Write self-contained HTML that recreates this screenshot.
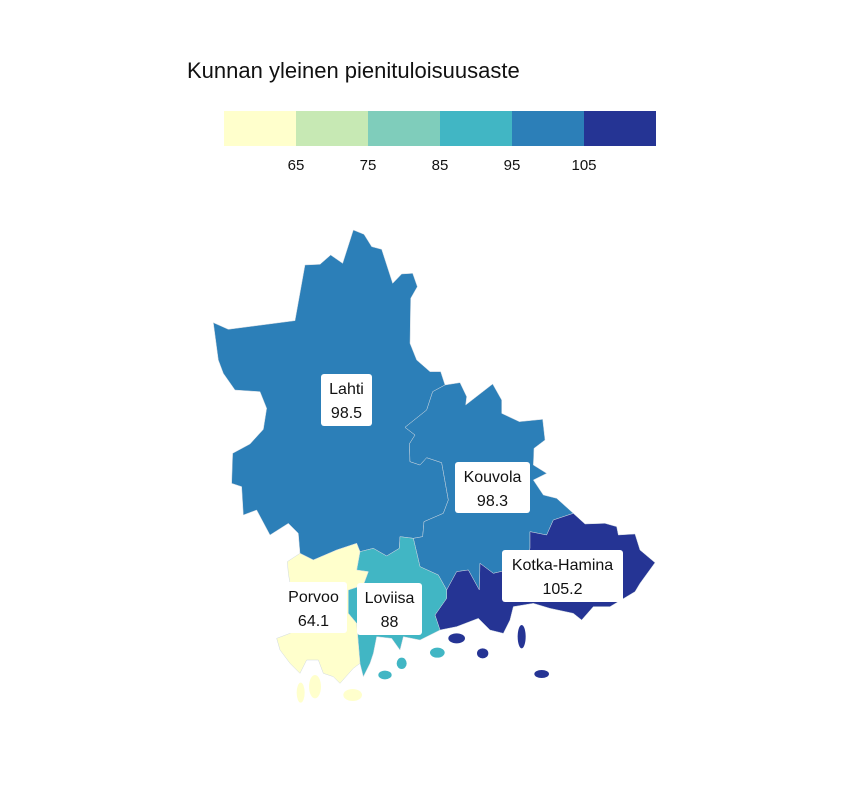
<!DOCTYPE html>
<html><head><meta charset="utf-8">
<style>
body{margin:0;background:#fff;font-family:"Liberation Sans",sans-serif;}
svg{display:block}
.lbl{font-size:16px;fill:#111;text-anchor:middle}
</style></head>
<body>
<svg id="chart" width="864" height="792">
<text x="187" y="78" font-size="22" fill="#111">Kunnan yleinen pienituloisuusaste</text>
<g id="legend"></g>
<g id="map" transform="translate(200,220) scale(0.33333)"></g>
<g id="labels"></g>
</svg>
<script>
const regions=["Lahti","Kouvola","Kotka-Hamina","Loviisa","Porvoo"];
const values=[98.5,98.3,105.2,88,64.1];
const thresholds=[65,75,85,95,105];
const binColors=["#ffffcc","#c7e9b4","#7fcdbb","#41b6c4","#2c7fb8","#253494"];
function colorOf(v){let i=0;while(i<thresholds.length&&v>=thresholds[i])i++;return binColors[i];}
const NS="http://www.w3.org/2000/svg";
const lg=document.getElementById('legend');
binColors.forEach((c,i)=>{const r=document.createElementNS(NS,'rect');
r.setAttribute('x',224+i*72);r.setAttribute('y',111);r.setAttribute('width',72);r.setAttribute('height',35);r.setAttribute('fill',c);


lg.appendChild(r);});
thresholds.forEach((t,i)=>{const tx=document.createElementNS(NS,'text');
tx.setAttribute('x',296+i*72);tx.setAttribute('y',170);tx.setAttribute('text-anchor','middle');tx.setAttribute('font-size','15');tx.setAttribute('fill','#111');tx.textContent=t;


lg.appendChild(tx);});
const shapes={
"Lahti":{poly:"40,308 85,328 285,302 315,135 360,133 392,105 428,130 460,30 492,43 515,80 545,88 578,190 605,162 638,160 652,200 632,235 630,370 650,420 690,455 722,455 735,495 698,515 680,570 615,622 645,645 628,672 630,725 660,735 680,713 725,728 745,840 730,880 672,905 668,950 640,955 600,950 598,985 560,1008 520,985 480,995 470,970 410,990 340,1020 300,1000 295,940 265,910 210,945 170,870 130,885 125,800 95,790 98,700 150,672 190,628 200,565 180,515 105,510 70,460 55,420",isl:[],box:[321,374,51,52]},
"Kouvola":{poly:"735,495 780,488 800,530 797,555 878,492 905,540 905,580 958,605 1028,598 1035,660 1002,685 1000,735 1040,760 1000,780 1030,825 1070,835 1120,880 1060,900 1040,945 990,935 990,985 965,1040 880,1060 840,1030 838,1110 805,1050 770,1055 740,1110 715,1065 660,1040 640,955 668,950 672,905 730,880 745,840 725,728 680,713 660,735 630,725 628,672 645,645 615,622 680,570 698,515",isl:[],box:[455,462,75,51]},
"Kotka-Hamina":{poly:"1120,880 1155,912 1215,910 1250,920 1255,945 1305,942 1320,990 1365,1028 1320,1090 1305,1115 1230,1160 1180,1160 1145,1200 1120,1180 1050,1165 1000,1150 940,1160 930,1200 910,1240 870,1230 835,1195 770,1220 720,1230 705,1185 740,1135 740,1110 770,1055 805,1050 838,1110 840,1030 880,1060 965,1040 990,985 990,935 1040,945 1060,900",isl:[[770,1255,25,15],[848,1300,17,15],[965,1250,12,35],[1025,1362,22,12]],box:[502,550,121,52]},
"Loviisa":{poly:"480,995 520,985 560,1008 598,985 600,950 640,955 660,1040 715,1065 740,1110 740,1135 705,1185 720,1230 700,1240 660,1260 610,1250 600,1290 575,1255 530,1250 520,1300 510,1330 490,1370 480,1330 470,1210 445,1180 445,1110 490,1095 505,1055 470,1050",isl:[[555,1365,20,13],[605,1330,15,17],[712,1298,22,15]],box:[357,583,65,52]},
"Porvoo":{poly:"300,1000 340,1020 410,990 470,970 480,995 470,1050 505,1055 490,1095 445,1110 445,1180 470,1210 480,1330 460,1345 420,1390 400,1370 370,1360 355,1320 320,1320 300,1360 270,1330 240,1290 230,1255 270,1240 310,1210 290,1170 270,1090 265,1060 262,1025",isl:[[302,1418,12,30],[345,1400,18,35],[458,1425,28,18]],box:[280,582,67,51]}
};
const map=document.getElementById('map'),labs=document.getElementById('labels');
regions.forEach((name,i)=>{
 const s=shapes[name],c=colorOf(values[i]);
 const g=document.createElementNS(NS,'g');
 
 
 const p=document.createElementNS(NS,'polygon');
 p.setAttribute('points',s.poly);p.setAttribute('fill',c);p.setAttribute('stroke','#cfd8e0');p.setAttribute('stroke-width','1.5');
 
 
 g.appendChild(p);
 s.isl.forEach(e=>{const el=document.createElementNS(NS,'ellipse');
  el.setAttribute('cx',e[0]);el.setAttribute('cy',e[1]);el.setAttribute('rx',e[2]);el.setAttribute('ry',e[3]);el.setAttribute('fill',c);
  
  
  g.appendChild(el);});
 map.appendChild(g);
 const b=s.box,lg2=document.createElementNS(NS,'g');
 
 
 const r=document.createElementNS(NS,'rect');
 r.setAttribute('x',b[0]);r.setAttribute('y',b[1]);r.setAttribute('width',b[2]);r.setAttribute('height',b[3]);r.setAttribute('rx',3);r.setAttribute('fill','#fff');
 lg2.appendChild(r);
 const cx=b[0]+b[2]/2;
 [name,String(values[i])].forEach((t,k)=>{const tx=document.createElementNS(NS,'text');
  tx.setAttribute('x',cx);tx.setAttribute('y',b[1]+20+k*24);tx.setAttribute('class','lbl');tx.textContent=t;lg2.appendChild(tx);});
 labs.appendChild(lg2);
});
</script>
</body></html>
